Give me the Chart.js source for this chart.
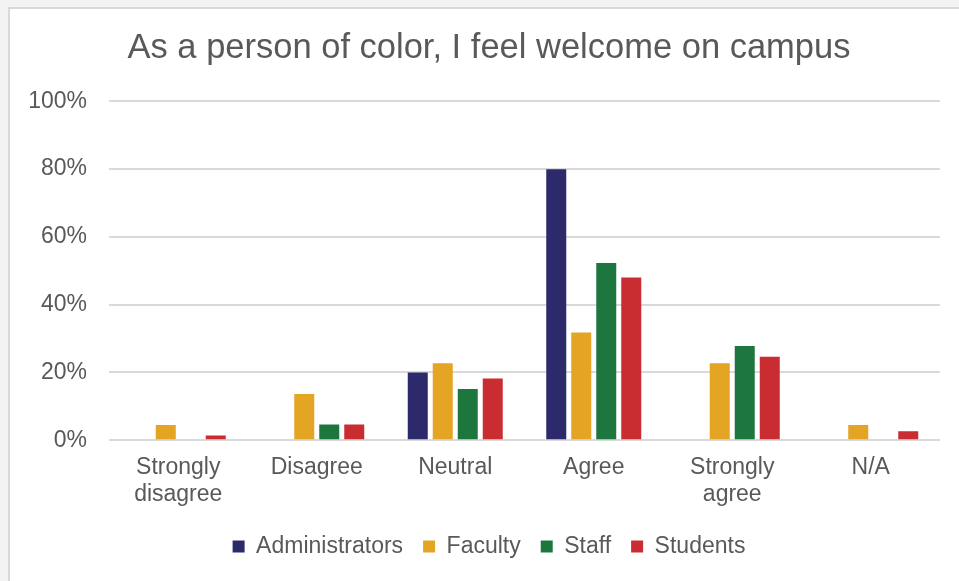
<!DOCTYPE html>
<html>
<head>
<meta charset="utf-8">
<script src="https://cdn.jsdelivr.net/npm/chart.js@4.4.1/dist/chart.umd.min.js"></script>
<style>
  html, body { margin: 0; padding: 0; background: #f3f3f3; overflow: hidden; }
  #frame {
    position: absolute; left: 8px; top: 7px; width: 1000px; height: 700px;
    background: #fff; border-left: 2px solid #d9d9d9; border-top: 2px solid #d9d9d9;
  }
  #wrap { position: absolute; left: 0; top: 0; width: 959px; height: 572px; }
</style>
</head>
<body>
<div id="frame"><div id="wrap"><canvas id="chart"></canvas></div></div>
<script>
"use strict";

const TITLE = "As a person of color, I feel welcome on campus";
const CATEGORIES = [["Strongly", "disagree"], "Disagree", "Neutral", "Agree", ["Strongly", "agree"], "N/A"];
const Y_TICKS = [0, 20, 40, 60, 80, 100];

// percent of respondents in each group
const ADMINISTRATORS = [0, 0, 20, 80, 0, 0];
const FACULTY = [4.5, 13.6, 22.7, 31.8, 22.7, 4.5];
const STAFF = [0, 4.6, 15.1, 52.3, 27.8, 0];
const STUDENTS = [1.4, 4.6, 18.2, 48.0, 24.6, 2.6];

const SERIES = [
  { label: "Administrators", data: ADMINISTRATORS, color: "#2c2a6b" },
  { label: "Faculty", data: FACULTY, color: "#e5a524" },
  { label: "Staff", data: STAFF, color: "#1e763f" },
  { label: "Students", data: STUDENTS, color: "#c92c31" },
];

const FONT = '"Liberation Sans", Arial, sans-serif';
const TEXT = "#595959";

// the left layout padding pushes title/legend right; let the y labels spill into it
const unclipYLabels = {
  id: "unclipYLabels",
  afterLayout(chart) { chart.scales.y.left = 0; },
};

new Chart(document.getElementById("chart"), {
  type: "bar",
  data: {
    labels: CATEGORIES,
    datasets: SERIES.map((s) => ({
      label: s.label,
      data: s.data,
      backgroundColor: s.color,
      borderWidth: 0,
      categoryPercentage: 0.722,
      barPercentage: 0.8,
    })),
  },
  plugins: [unclipYLabels],
  options: {
    responsive: true,
    maintainAspectRatio: false,
    animation: false,
    layout: { padding: { left: 28, right: 29, top: 19, bottom: 13 } },
    plugins: {
      title: {
        display: true,
        text: TITLE,
        color: TEXT,
        font: { family: FONT, size: 34.5, weight: "normal" },
        padding: { top: 0, bottom: 32 },
      },
      legend: {
        position: "bottom",
        labels: {
          color: TEXT,
          font: { family: FONT, size: 23 },
          boxWidth: 12,
          boxHeight: 12,
          padding: 20,
        },
      },
      tooltip: { enabled: false },
    },
    scales: {
      x: {
        afterFit: (scale) => { scale.height -= 7; },
        grid: { display: false, drawTicks: false },
        border: { display: false },
        ticks: {
          color: TEXT,
          font: { family: FONT, size: 23, lineHeight: 1.17 },
          padding: 14,
          maxRotation: 0,
          autoSkip: false,
        },
      },
      y: {
        min: 0,
        max: 100,
        afterFit: (scale) => { scale.width = 71; },
        afterBuildTicks: (scale) => { scale.ticks = Y_TICKS.map((v) => ({ value: v })); },
        grid: { color: "#d9d9d9", lineWidth: 2, drawTicks: false },
        border: { display: false },
        ticks: {
          color: TEXT,
          font: { family: FONT, size: 23 },
          padding: 22,
          callback: (v) => `${v}%`,
        },
      },
    },
  },
});
</script>
</body>
</html>
